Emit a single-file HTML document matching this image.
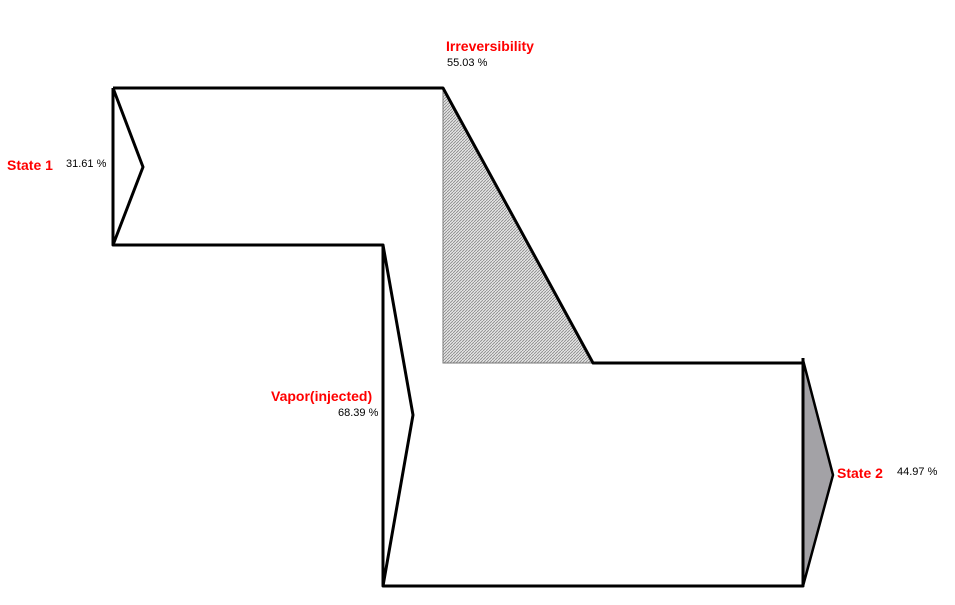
<!DOCTYPE html>
<html><head><style>body{margin:0;background:#fff}svg{display:block}</style></head><body>
<svg width="955" height="605" xmlns="http://www.w3.org/2000/svg" font-family="Liberation Sans, sans-serif">
<defs><pattern id="h" width="3" height="3" patternUnits="userSpaceOnUse"><rect width="3" height="3" fill="#e4e4e4"/><path d="M0 3L3 0" stroke="#888" stroke-width="0.8"/></pattern></defs>
<polygon points="443,88 443,363 593,363" fill="url(#h)" stroke="#777" stroke-width="1"/>
<polygon points="803,360 833,475 803,586" fill="#a3a2a6" stroke="#000" stroke-width="2.5"/>
<g stroke="#000" stroke-width="3" fill="none" stroke-linejoin="round">
<path d="M113,88 L443,88 L593,363 L803,363"/>
<path d="M803,358 L803,586 L383,586 L383,245 L113,245 L113,88"/>
<path d="M113,88 L143,167 L113,245"/>
<path d="M383,245 L413,415 L383,586"/>
</g>
<g fill="#f00" font-weight="bold" font-size="14">
<text x="7" y="170">State 1</text>
<text x="446" y="51">Irreversibility</text>
<text x="271" y="401">Vapor(injected)</text>
<text x="837" y="478">State 2</text>
</g>
<g fill="#000" font-size="11">
<text x="66" y="167">31.61 %</text>
<text x="447" y="66">55.03 %</text>
<text x="338" y="416">68.39 %</text>
<text x="897" y="475">44.97 %</text>
</g>
</svg>
</body></html>
